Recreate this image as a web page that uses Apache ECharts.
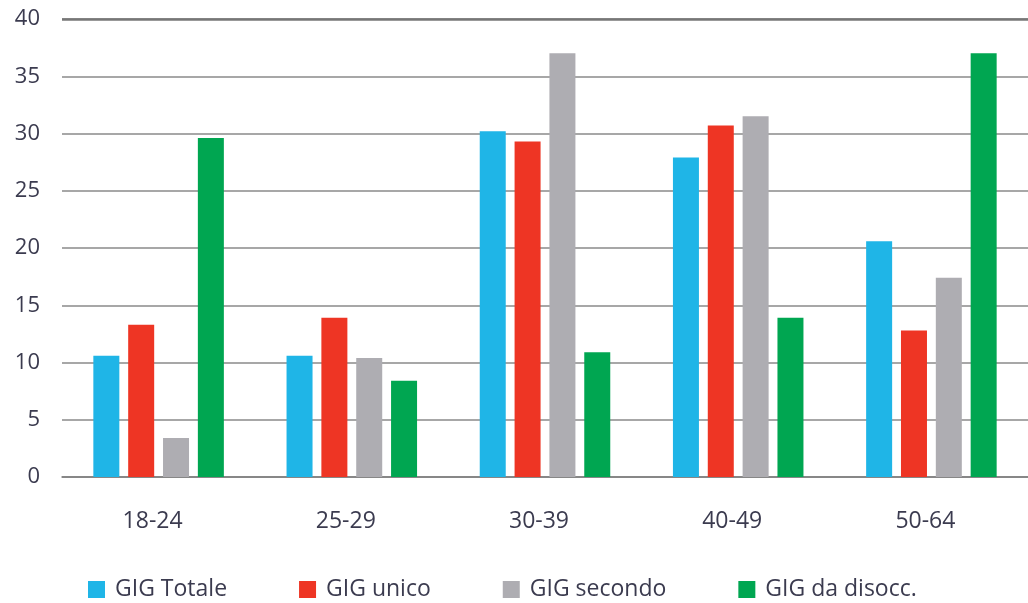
<!DOCTYPE html>
<html>
<head>
<meta charset="utf-8">
<script src="https://cdn.jsdelivr.net/npm/echarts@6/dist/echarts.min.js"></script>
<style>
  html, body { margin: 0; padding: 0; background: #fff; }
  #chart { width: 1028px; height: 603px; }
</style>
</head>
<body>
<div id="chart"></div>
<script>
// data
var categories = ["18-24", "25-29", "30-39", "40-49", "50-64"];
var gigTotale = [10.6, 10.6, 30.2, 27.9, 20.6];
var gigUnico = [13.3, 13.9, 29.3, 30.7, 12.8];
var gigSecondo = [3.4, 10.4, 37.0, 31.5, 17.4];
var gigDisocc = [29.6, 8.4, 10.9, 13.9, 37.0];
var seriesNames = ["GIG Totale", "GIG unico", "GIG secondo", "GIG da disocc."];

var myChart = echarts.init(document.getElementById("chart"));
var textColor = "#3b3b4f";
var font = "'Open Sans', Lato, sans-serif";

function barSeries(name, data, color) {
  return {
    name: name,
    type: "bar",
    data: data,
    barWidth: 26,
    barGap: "34%",
    itemStyle: { color: color },
  };
}

var series = [
  barSeries(seriesNames[0], gigTotale, "#1fb5e7"),
  barSeries(seriesNames[1], gigUnico, "#ee3524"),
  barSeries(seriesNames[2], gigSecondo, "#aeadb2"),
  barSeries(seriesNames[3], gigDisocc, "#00a651"),
];
// heavier line at the top of the scale
series[0].markLine = {
  silent: true,
  symbol: "none",
  label: { show: false },
  lineStyle: { color: "#777", width: 2.5, type: "solid" },
  data: [{ yAxis: 40 }],
};

var option = {
  animation: false,
  textStyle: { fontFamily: font },
  grid: {
    left: 62,
    top: 19,
    width: 975,
    height: 458,
    containLabel: false,
  },
  legend: {
    data: seriesNames,
    left: 83,
    top: 573,
    icon: "rect",
    itemWidth: 17,
    itemHeight: 17,
    itemGap: 72,
    textStyle: {
      color: textColor,
      fontSize: 23,
      fontFamily: font,
      padding: [0, 0, 0, 5],
    },
  },
  xAxis: {
    type: "category",
    data: categories,
    axisLine: { show: true, lineStyle: { color: "#7d7d7d", width: 1.5 } },
    axisTick: { show: false },
    axisLabel: {
      color: textColor,
      fontSize: 23,
      margin: 33,
      padding: [0, 12, 0, 0],
      fontFamily: font,
    },
  },
  yAxis: {
    type: "value",
    min: 0,
    max: 40,
    interval: 5,
    axisLine: { show: false },
    axisTick: { show: false },
    axisLabel: { color: textColor, fontSize: 22, margin: 22, fontFamily: font },
    splitLine: {
      lineStyle: { color: "#8a8a8a", width: 1.5 },
    },
  },
  series: series,
};

option && myChart.setOption(option);
</script>
</body>
</html>
